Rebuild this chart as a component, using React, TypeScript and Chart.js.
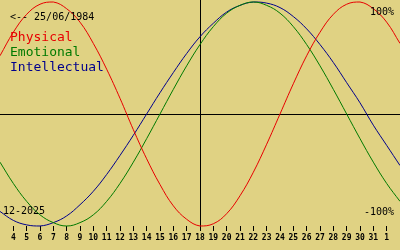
import React, { useEffect, useRef } from "react";
import { Chart, registerables } from "chart.js";

Chart.register(...registerables);

// Days shown (December 2025; 32 and 33 are 1 and 2 January)
const DAYS = [3, 4, 5, 6, 7, 8, 9, 10, 11, 12, 13, 14, 15, 16, 17, 18, 19, 20, 21, 22, 23, 24, 25, 26, 27, 28, 29, 30, 31, 32, 33];
const TICK_DAYS = [4, 5, 6, 7, 8, 9, 10, 11, 12, 13, 14, 15, 16, 17, 18, 19, 20, 21, 22, 23, 24, 25, 26, 27, 28, 29, 30, 31, 32];
const TICK_LABELS = ["4", "5", "6", "7", "8", "9", "10", "11", "12", "13", "14", "15", "16", "17", "18", "19", "20", "21", "22", "23", "24", "25", "26", "27", "28", "29", "30", "31", "1"];
const TODAY = 18;

// Values in percent
const PHYSICAL = [52, 73, 89, 98, 100, 94, 82, 63, 40, 14, -14, -40, -63, -82, -94, -100, -98, -89, -73, -52, -27, 0, 27, 52, 73, 89, 98, 100, 94, 82, 63];
const EMOTIONAL = [-43, -62, -78, -90, -97, -100, -97, -90, -78, -62, -43, -22, 0, 22, 43, 62, 78, 90, 97, 100, 97, 90, 78, 62, 43, 22, 0, -22, -43, -62, -78];
const INTELLECTUAL = [-87, -95, -99, -100, -97, -91, -81, -69, -54, -37, -19, 0, 19, 37, 54, 69, 81, 91, 97, 100, 99, 95, 87, 76, 62, 46, 28, 10, -10, -28, -46];

const SERIES_NAMES = ["Physical", "Emotional", "Intellectual"];
const SERIES_COLORS = ["#e80000", "#007a00", "#00008c"];
const BIRTH_TEXT = "<-- 25/06/1984";
const MONTH_TEXT = "12-2025";
const TOP_TEXT = "100%";
const BOTTOM_TEXT = "-100%";

const BG = "#e0d283";
const MONO = "'DejaVu Sans Mono', monospace";

export default function App() {
  const ref = useRef<HTMLCanvasElement | null>(null);

  useEffect(() => {
    document.body.style.margin = "0";
    const canvas = ref.current;
    if (!canvas) return;

    const bgPlugin = {
      id: "bg",
      beforeDraw(chart: any) {
        const ctx = chart.ctx;
        ctx.save();
        ctx.fillStyle = BG;
        ctx.fillRect(0, 0, chart.width, chart.height);
        ctx.restore();
      },
    };

    const axesPlugin = {
      id: "crossAxes",
      beforeDatasetsDraw(chart: any) {
        const ctx = chart.ctx;
        const xs = chart.scales.x;
        const ys = chart.scales.y;
        const ca = chart.chartArea;
        ctx.save();
        ctx.strokeStyle = "#000";
        ctx.lineWidth = 1;
        const y0 = Math.round(ys.getPixelForValue(0)) + 0.5;
        ctx.beginPath();
        ctx.moveTo(0, y0);
        ctx.lineTo(chart.width, y0);
        ctx.stroke();
        const x0 = Math.round(xs.getPixelForValue(TODAY)) + 0.5;
        ctx.beginPath();
        ctx.moveTo(x0, 0);
        ctx.lineTo(x0, ca.bottom + 2);
        ctx.stroke();
        ctx.restore();
      },
    };

    const textPlugin = {
      id: "texts",
      afterDatasetsDraw(chart: any) {
        const ctx = chart.ctx;
        ctx.save();
        ctx.textBaseline = "middle";
        ctx.fillStyle = "#000";
        ctx.font = `10px ${MONO}`;
        ctx.textAlign = "left";
        ctx.fillText(BIRTH_TEXT, 10, 17);
        ctx.fillText(MONTH_TEXT, 3, 211);
        ctx.textAlign = "right";
        ctx.fillText(TOP_TEXT, 394, 12);
        ctx.fillText(BOTTOM_TEXT, 394, 212);
        ctx.textAlign = "left";
        ctx.font = `13px ${MONO}`;
        SERIES_NAMES.forEach((name, i) => {
          ctx.fillStyle = SERIES_COLORS[i];
          ctx.fillText(name, 10, 38 + i * 15);
        });
        ctx.restore();
      },
    };

    const mk = (vals: number[]) => DAYS.map((d, i) => ({ x: d, y: vals[i] }));
    const seriesVals = [PHYSICAL, EMOTIONAL, INTELLECTUAL];

    const chart = new Chart(canvas, {
      type: "line",
      data: {
        datasets: seriesVals.map((vals, i) => ({
          label: SERIES_NAMES[i],
          data: mk(vals),
          borderColor: SERIES_COLORS[i],
          borderWidth: 1,
          pointRadius: 0,
          tension: 0.4,
          fill: false,
          clip: false as any,
        })),
      },
      options: {
        animation: false,
        responsive: false,
        maintainAspectRatio: false,
        devicePixelRatio: 1,
        layout: { padding: { top: 2, left: 0, right: 0, bottom: 0 } },
        plugins: { legend: { display: false }, tooltip: { enabled: false } },
        scales: {
          x: {
            type: "linear",
            min: DAYS[0],
            max: DAYS[DAYS.length - 1],
            afterBuildTicks(scale: any) {
              scale.ticks = TICK_DAYS.map((v) => ({ value: v }));
            },
            afterFit(scale: any) {
              scale.height = 24;
            },
            grid: {
              display: true,
              drawOnChartArea: false,
              drawTicks: true,
              tickLength: 5,
              color: "#000",
            },
            border: { display: false },
            ticks: {
              autoSkip: false,
              maxRotation: 0,
              padding: 2,
              color: "#000",
              font: { family: "'DejaVu Sans Mono', monospace", size: 8, weight: "bold" },
              callback(value: any) {
                const idx = TICK_DAYS.indexOf(Number(value));
                return idx >= 0 ? TICK_LABELS[idx] : "";
              },
            },
          },
          y: {
            display: false,
            min: -100,
            max: 100,
          },
        },
      },
      plugins: [bgPlugin, axesPlugin, textPlugin],
    });

    return () => chart.destroy();
  }, []);

  return (
    <div style={{ position: "fixed", left: 0, top: 0, width: 400, height: 250 }}>
      <canvas ref={ref} width={400} height={250} />
    </div>
  );
}
